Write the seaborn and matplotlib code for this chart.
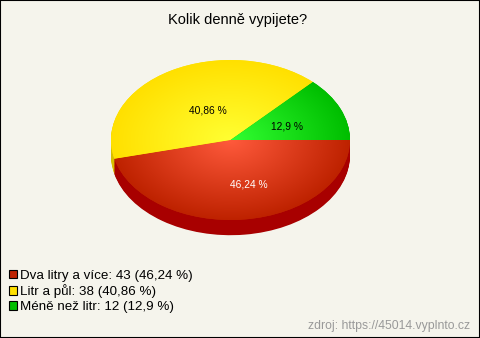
import numpy as np
import matplotlib
matplotlib.use('Agg')
import matplotlib.pyplot as plt
from matplotlib.colors import LinearSegmentedColormap
from matplotlib.patches import Patch
import seaborn as sns

title = 'Kolik denně vypijete?'
categories = ['Dva litry a více', 'Litr a půl', 'Méně než litr']
counts = [43, 38, 12]
percents = ['46,24 %', '40,86 %', '12,9 %']
source = 'zdroj: https://45014.vyplnto.cz'

inner_colors = ['#FF5A3C', '#FFFF32', '#32FF32']
outer_colors = ['#BE2200', '#FFE000', '#00BE00']
side_colors = ['#A80000', '#D8BE00', '#00A000']
legend_colors = ['#BE2200', '#FFE000', '#00BE00']
label_colors = ['white', 'black', 'black']
bg = '#F5F4EC'

sns.set_theme(style='white')
plt.rcParams['font.family'] = ['Liberation Sans', 'DejaVu Sans']

fig = plt.figure(figsize=(4.8, 3.38), dpi=100, facecolor=bg)
ax = fig.add_axes([0, 0, 1, 1])
ax.set_facecolor(bg)

# side of the pie, stacked slices going up
for d in np.arange(0.19, 0, -0.01):
    ax.pie(counts, colors=side_colors, startangle=0, counterclock=False,
           center=(0, -d), radius=1, wedgeprops={'linewidth': 0})

# top face
wedges, _ = ax.pie(counts, colors=outer_colors, startangle=0, counterclock=False,
                   center=(0, 0), radius=1, wedgeprops={'linewidth': 0})

# radial gradient on each slice
gx, gy = np.meshgrid(np.linspace(-1, 1, 300), np.linspace(-1, 1, 300))
dist = np.clip(np.hypot(gx, gy), 0, 1)
for w, c1, c2 in zip(wedges, inner_colors, outer_colors):
    cmap = LinearSegmentedColormap.from_list('g', [c1, c2])
    im = ax.imshow(dist, cmap=cmap, extent=(-1, 1, -1, 1), vmin=0, vmax=1,
                   origin='lower', zorder=3, interpolation='bilinear')
    im.set_clip_path(w)

# stretch to the ellipse, limits put the centre at pixel (230.5, 140)
ax.set_aspect('auto')
ax.set_xlim(-230.5 / 119.5, 249.5 / 119.5)
ax.set_ylim(-198 / 80, 140 / 80)
ax.axis('off')

label_pos = [(0.155, -0.56), (-0.19, 0.37), (0.47, 0.17)]
for (lx, ly), txt, col in zip(label_pos, percents, label_colors):
    ax.text(lx, ly, txt, color=col, fontsize=7.4, ha='center', va='center', zorder=5)

fig.text(238 / 480, 1 - 20 / 338, title, fontsize=10.5, color='black', ha='center', va='center')

handles = [Patch(facecolor=c, edgecolor='black', linewidth=0.8) for c in legend_colors]
labels = [f'{n}: {v} ({p})' for n, v, p in zip(categories, counts, percents)]
fig.legend(handles, labels, loc='lower left', bbox_to_anchor=(9 / 480, 1 - 313 / 338),
           frameon=False, fontsize=9.6, borderpad=0, borderaxespad=0, handlelength=0.6,
           handleheight=0.6, handletextpad=0.22, labelspacing=0.2, labelcolor='black')

fig.text(470 / 480, 1 - 326 / 338, source, fontsize=8.8, color='#999999', ha='right', va='center')

# black frame around the picture
fig.patches.append(plt.Rectangle((0, 0), 1, 1, transform=fig.transFigure, fill=False,
                                 edgecolor='black', linewidth=1.5))

fig.savefig('out.png', dpi=100, facecolor=bg)
